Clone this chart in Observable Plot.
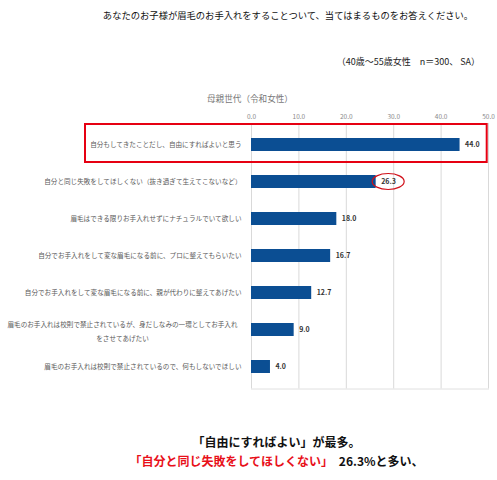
<!DOCTYPE html>
<html lang="ja">
<head>
<meta charset="utf-8">
<script src="https://cdn.jsdelivr.net/npm/d3@7"></script>
<script src="https://cdn.jsdelivr.net/npm/@observablehq/plot@0.6"></script>
<style>
  html, body { margin: 0; padding: 0; background: #fff; }
  body { font-family: "Noto Sans CJK JP", "Noto Sans", sans-serif; width: 497px; }
  #header { position: relative; height: 104px; }
  #title { position: absolute; left: 80px; width: 416px; top: 8px; line-height: 14px; font-size: 9.3px; color: #111; text-align: center; white-space: nowrap; }
  #sub { position: absolute; right: 17px; top: 56px; line-height: 12px; font-size: 9px; color: #222; white-space: nowrap; }
  #group { position: absolute; left: 150px; width: 200px; top: 92px; line-height: 12px; font-size: 8.6px; color: #777; text-align: center; white-space: nowrap; }
  #chart svg { display: block; }
  #caption { padding-top: 18px; text-align: center; font-weight: bold; font-size: 12px; line-height: 19px; color: #111; padding-left: 56px; }
  #caption .red { color: #e8101a; margin-right: 3px; }
</style>
</head>
<body>
<div id="header">
  <div id="title">あなたのお子様が眉毛のお手入れをすることついて、当てはまるものをお答えください。</div>
  <div id="sub">（40歳～55歳女性　n＝300、 SA）</div>
  <div id="group">母親世代（令和女性）</div>
</div>
<div id="chart"></div>
<div id="caption">
  <div>「自由にすればよい」が最多。</div>
  <div><span class="red">「自分と同じ失敗をしてほしくない」</span> 26.3%と多い、</div>
</div>
<script>
const categories = [
  "自分もしてきたことだし、自由にすればよいと思う",
  "自分と同じ失敗をしてほしくない（抜き過ぎて生えてこないなど）",
  "眉毛はできる限りお手入れせずにナチュラルでいて欲しい",
  "自分でお手入れをして変な眉毛になる前に、プロに整えてもらいたい",
  "自分でお手入れをして変な眉毛になる前に、親が代わりに整えてあげたい",
  "眉毛のお手入れは校則で禁止されているが、身だしなみの一環としてお手入れ\nをさせてあげたい",
  "眉毛のお手入れは校則で禁止されているので、何もしないでほしい"
];
const values = [44.0, 26.3, 18.0, 16.7, 12.7, 9.0, 4.0];
const xTicks = [0, 10, 20, 30, 40, 50];
const highlighted = categories[0];
const circled = categories[1];

const data = categories.map((c, i) => ({category: c, value: values[i]}));
const singleLine = categories.filter(c => !c.includes("\n"));
const multiLine = categories.filter(c => c.includes("\n"));

const plot = Plot.plot({
  width: 497,
  height: 310,
  marginLeft: 251,
  marginRight: 9,
  marginTop: 19,
  marginBottom: 25.5,
  style: {fontFamily: '"Noto Sans CJK JP", "Noto Sans", sans-serif', background: "#fff"},
  x: {domain: [0, 50], axis: null, label: null},
  y: {domain: categories, paddingInner: 0.657, paddingOuter: 0.331, axis: null, label: null},
  marks: [
    Plot.gridX(xTicks, {stroke: "#d9d9d9", strokeOpacity: 1, strokeWidth: 1}),
    Plot.frame({anchor: "bottom", stroke: "#e0e0e0"}),
    Plot.axisX(xTicks, {anchor: "top", label: null, tickSize: 0, tickPadding: 5, tickFormat: d => d.toFixed(1), fontSize: 6.5, fill: "#8a8a8a"}),
    Plot.barX(data, {x: "value", y: "category", fill: "#0b4e93"}),
    Plot.text(data, {x: "value", y: "category", text: d => d.value.toFixed(1), dx: 5, textAnchor: "start", fontWeight: "bold", fontSize: 7, fill: "#333"}),
    Plot.text(singleLine, {x: 0, y: d => d, text: d => d, textAnchor: "end", dx: -10, fontSize: 6.6, fill: "#595959"}),
    Plot.text(multiLine, {x: 0, y: d => d, text: d => d, textAnchor: "middle", dx: -129, lineHeight: 2.12, fontSize: 6.6, fill: "#595959"}),
    Plot.barX([highlighted], {x1: 0, x2: 50, y: d => d, fill: "none", stroke: "#e60012", strokeWidth: 2, insetLeft: -166, insetRight: 1.3, insetTop: -14, insetBottom: -11})
  ]
});

// red ellipse around the 26.3 label
const xs = plot.scale("x"), ys = plot.scale("y");
const vi = categories.indexOf(circled);
d3.select(plot).append("ellipse")
  .attr("cx", xs.apply(values[vi]) + 12.5)
  .attr("cy", ys.apply(circled) + ys.bandwidth / 2)
  .attr("rx", 16)
  .attr("ry", 8)
  .attr("fill", "none")
  .attr("stroke", "#d0101a")
  .attr("stroke-width", 1.2);

document.getElementById("chart").appendChild(plot);
</script>
</body>
</html>
